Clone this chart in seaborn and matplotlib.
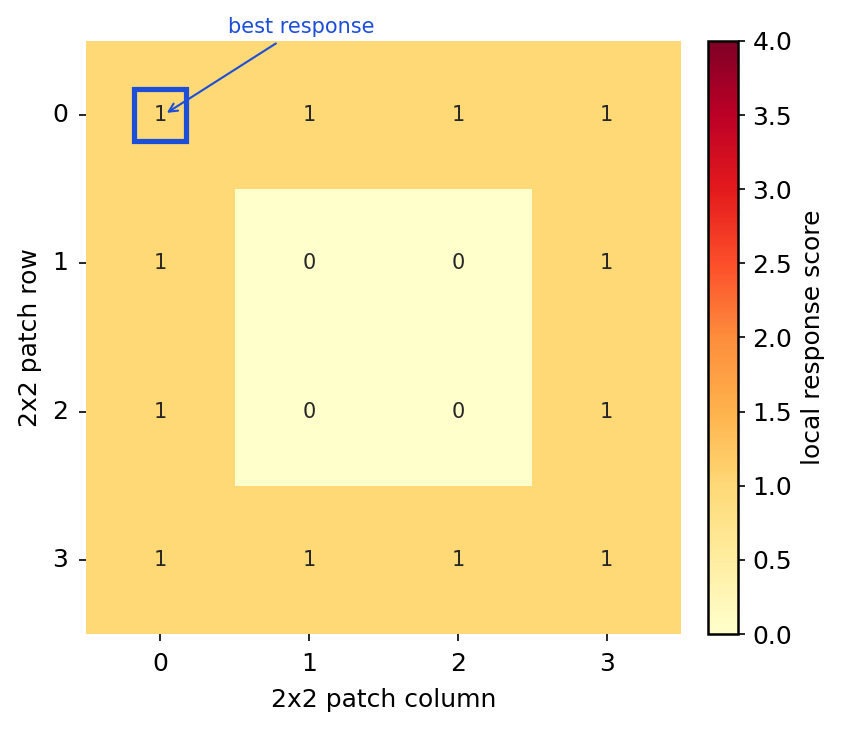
import numpy as np
import pandas as pd
import matplotlib
matplotlib.use("Agg")
import matplotlib.pyplot as plt
import seaborn as sns
from matplotlib.patches import Rectangle

# 4x4 grid of local response scores (row = patch row, column = patch column)
rows = [0, 1, 2, 3]
cols = [0, 1, 2, 3]
row0 = [1, 1, 1, 1]
row1 = [1, 0, 0, 1]
row2 = [1, 0, 0, 1]
row3 = [1, 1, 1, 1]
best_cell = (0, 0)  # (row, col)

scores = pd.DataFrame([row0, row1, row2, row3], index=rows, columns=cols)

plt.rcParams["font.size"] = 12
fig = plt.figure(figsize=(847 / 150, 729 / 150), dpi=150)
ax = fig.add_axes([0.1015, 0.1303, 0.7025, 0.8135])
cax = fig.add_axes([0.836, 0.1303, 0.035, 0.8135])

sns.heatmap(scores, ax=ax, cbar_ax=cax, cmap="YlOrRd", vmin=0, vmax=4,
            annot=True, fmt="d", annot_kws={"fontsize": 10},
            cbar_kws={"label": "local response score"})

ax.set_xlabel("2x2 patch column", fontsize=12, labelpad=6)
ax.set_ylabel("2x2 patch row", fontsize=12, labelpad=5)
ax.tick_params(axis="both", labelsize=12, pad=5)
ax.tick_params(axis="y", rotation=0)
ax.set_aspect("auto")

# highlight the best cell
r, c = best_cell
blue = "#1d4ed8"
ax.add_patch(Rectangle((c + 0.325, r + 0.325), 0.35, 0.35, fill=False,
                       edgecolor=blue, linewidth=2.5, clip_on=False))
ax.annotate("best response", xy=(c + 0.52, r + 0.5), xytext=(c + 1.45, r - 0.094),
            fontsize=10, color=blue, ha="center", va="center",
            arrowprops=dict(arrowstyle="->", color=blue, lw=1),
            annotation_clip=False)

cbar = ax.collections[0].colorbar
cbar.outline.set_linewidth(1.2)
cbar.outline.set_edgecolor("black")
cbar.set_ticks(np.arange(0, 4.01, 0.5))
cax.tick_params(labelsize=12)
cax.yaxis.label.set_size(12)

fig.savefig("out.png", dpi=150)
